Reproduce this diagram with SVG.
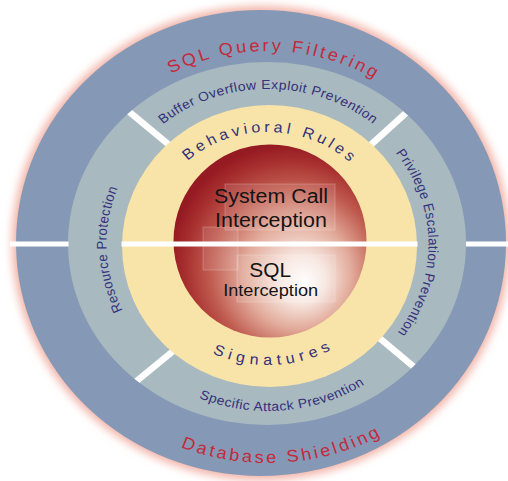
<svg xmlns="http://www.w3.org/2000/svg" width="508" height="481" viewBox="0 0 508 481">
<defs>
<style>
.lbl{font-family:"Liberation Sans",Arial,Helvetica,sans-serif}
.outer-label{font-size:17px;fill:#c42a3c;letter-spacing:2.7px}
.mid-label{font-size:13px;fill:#35317a;letter-spacing:0.45px}
.inner-label{font-size:15px;fill:#35317a}
.core-label{fill:#141414;text-anchor:middle}
.divider{stroke:#ffffff;stroke-width:6.5;fill:none}
.hline{fill:#ffffff}
.ghost{fill:#ffffff;fill-opacity:0.1;stroke:#ffffff;stroke-opacity:0.22;stroke-width:1}
</style>
<filter id="glow" x="-10%" y="-10%" width="120%" height="120%"><feGaussianBlur stdDeviation="4"/></filter>
<radialGradient id="sphereGrad" cx="0.6" cy="0.62" r="0.62" fx="0.68" fy="0.72">
<stop offset="0" stop-color="#ffffff"/>
<stop offset="0.2" stop-color="#f7e6df"/>
<stop offset="0.45" stop-color="#e2ab9b"/>
<stop offset="0.7" stop-color="#c05c50"/>
<stop offset="0.88" stop-color="#a8302f"/>
<stop offset="1" stop-color="#951a22"/>
</radialGradient>
<clipPath id="grayClip"><ellipse cx="267" cy="243.5" rx="199" ry="181.5"/></clipPath>
<path id="pTopOuter" d="M 75 244 A 193 193 0 0 1 461 244"/>
<path id="pBotOuter" d="M 49 244 A 219 219 0 0 0 487 244"/>
<path id="pTopMid" d="M 113 244 A 155 155 0 0 1 423 244"/>
<path id="pBotMid" d="M 101 244 A 167 167 0 0 0 435 244"/>
<path id="pRightMid" d="M 268 94 A 150 150 0 0 1 268 394"/>
<path id="pLeftMid" d="M 268 395 A 151 151 0 0 1 268 93"/>
<path id="pTopInner" d="M 156 244 A 112 112 0 0 1 380 244"/>
<path id="pBotInner" d="M 147 244 A 121 121 0 0 0 389 244"/>
</defs>
<rect x="0" y="0" width="508" height="481" fill="#ffffff"/>

<g id="outer-ring">
<ellipse cx="261" cy="243" rx="249" ry="237" fill="#f2b4a8" filter="url(#glow)"/>
<ellipse cx="261" cy="243" rx="245" ry="233" fill="#8599b6"/>
</g>
<g id="middle-ring">
<ellipse cx="267" cy="243.5" rx="199" ry="181.5" fill="#a8b9c0"/>
</g>
<g id="dividers">
<g clip-path="url(#grayClip)">
<line class="divider" x1="124" y1="107.5" x2="171" y2="146.5"/>
<line class="divider" x1="412" y1="107.5" x2="369" y2="146.5"/>
<line class="divider" x1="175" y1="349.5" x2="130" y2="386.5"/>
<line class="divider" x1="377" y1="336" x2="420" y2="372"/>
</g>
</g>
<g id="inner-ring">
<ellipse cx="269.5" cy="246" rx="147.5" ry="141" fill="#f8e4a8"/>
</g>
<g id="core">
<circle cx="270" cy="241" r="96.5" fill="url(#sphereGrad)"/>
<rect class="ghost" x="225" y="184" width="110" height="46"/>
<rect class="ghost" x="203" y="227" width="35" height="43"/>
<rect class="ghost" x="237" y="255" width="98" height="47"/>
</g>
<g id="split-line">
<rect class="hline" x="10" y="241.5" width="58.5" height="5"/>
<rect class="hline" x="121.5" y="241.5" width="296" height="5"/>
<rect class="hline" x="466" y="241.5" width="42" height="5"/>
</g>

<g id="labels" transform="matrix(1.07 0 0 1 -18.76 0)">
<text class="lbl outer-label"><textPath href="#pTopOuter" startOffset="309.3" text-anchor="middle">SQL Query Filtering</textPath></text>
<text class="lbl outer-label"><textPath href="#pBotOuter" startOffset="358.1" text-anchor="middle">Database Shielding</textPath></text>
<text class="lbl mid-label"><textPath href="#pTopMid" startOffset="243.5" text-anchor="middle">Buffer Overflow Exploit Prevention</textPath></text>
<text class="lbl mid-label"><textPath href="#pBotMid" startOffset="276.9" text-anchor="middle">Specific Attack Prevention</textPath></text>
<text class="lbl mid-label"><textPath href="#pRightMid" startOffset="234.2" text-anchor="middle">Privilege Escalation Prevention</textPath></text>
<text class="lbl mid-label"><textPath href="#pLeftMid" startOffset="231.4" text-anchor="middle">Resource Protection</textPath></text>
<text class="lbl inner-label" style="letter-spacing:3.5px"><textPath href="#pTopInner" startOffset="178.3" text-anchor="middle">Behavioral Rules</textPath></text>
<text class="lbl inner-label" style="letter-spacing:4.8px"><textPath href="#pBotInner" startOffset="196.1" text-anchor="middle">Signatures</textPath></text>
<text class="lbl core-label" x="270.8" y="203.3" font-size="20">System Call</text>
<text class="lbl core-label" x="270.8" y="226.7" font-size="20">Interception</text>
<text class="lbl core-label" x="270" y="277" font-size="19.5">SQL</text>
<text class="lbl core-label" x="270.5" y="296" font-size="17">Interception</text>
</g>
</svg>
